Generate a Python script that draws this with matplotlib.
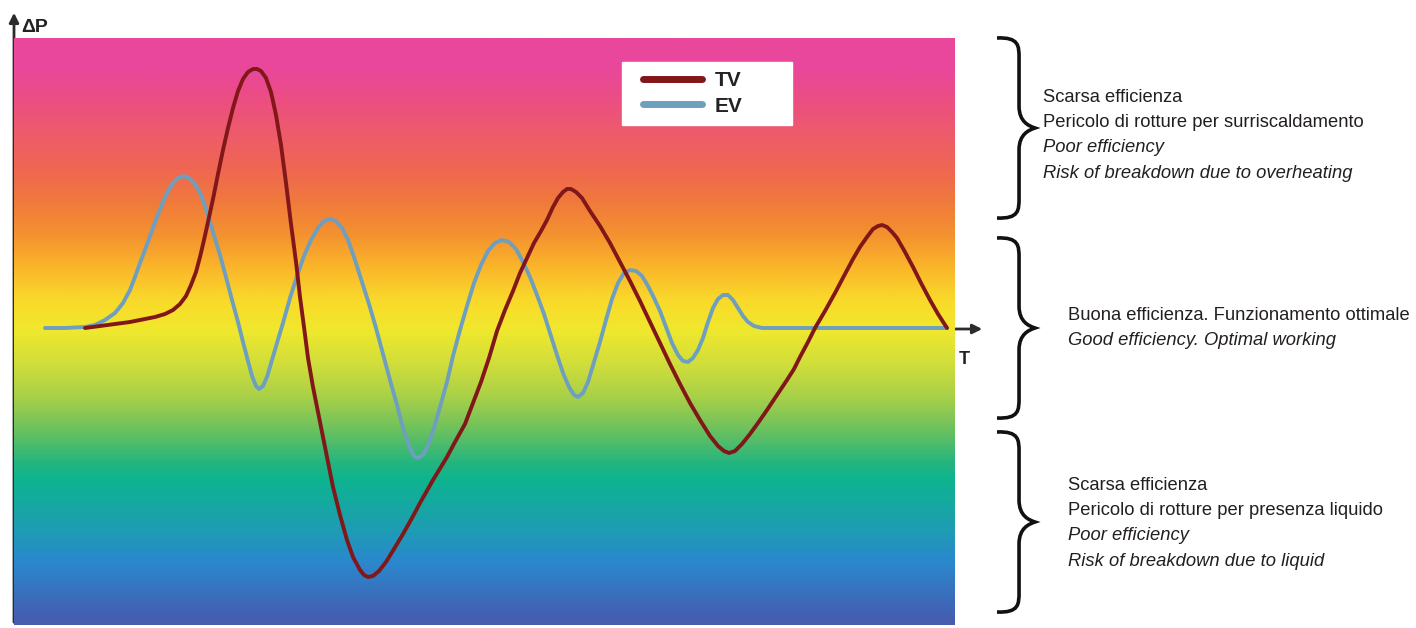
import numpy as np
from matplotlib import pyplot as plt
from matplotlib.colors import LinearSegmentedColormap
from matplotlib.legend_handler import HandlerLine2D
from matplotlib.path import Path
from matplotlib.patches import PathPatch

# TV curve (time, delta P)
tv_t = [71, 86, 101, 116, 131, 141, 151, 159, 166, 172, 177, 182, 186, 190, 194, 199,
        204, 209, 214, 219, 224, 229, 234, 239, 243, 247, 252, 257, 262, 267, 272, 277,
        282, 286, 290, 294, 299, 304, 309, 314, 319, 326, 333, 339, 346, 350, 354, 359,
        365, 372, 380, 389, 398, 406, 419, 433, 441, 451, 459, 467, 475, 483, 491, 499,
        506, 513, 520, 527, 533, 539, 544, 549, 553, 557, 562, 568, 576, 586, 596, 606,
        616, 626, 636, 646, 656, 666, 676, 686, 696, 704, 710, 715, 721, 728, 736, 744,
        753, 763, 773, 780, 786, 794, 801, 811, 821, 831, 839, 846, 853, 859, 864, 868,
        873, 878, 883, 891, 899, 907, 916, 924, 933]
tv_p = [0, 2, 4, 6, 9, 11, 14, 18, 24, 32, 43, 56, 71, 88, 106, 129,
        154, 178, 200, 220, 237, 249, 256, 259, 259, 257, 250, 236, 213, 183, 145, 104,
        66, 31, 1, -30, -59, -84, -109, -134, -159, -187, -212, -229, -242, -247, -249, -248,
        -243, -234, -221, -206, -190, -175, -152, -129, -114, -96, -75, -54, -30, -3, 18, 37,
        55, 70, 85, 97, 108, 121, 130, 136, 139, 139, 136, 130, 117, 102, 85, 66,
        47, 27, 6, -15, -36, -56, -75, -92, -108, -118, -123, -125, -123, -116, -106, -95,
        -82, -67, -52, -41, -29, -14, 0, 17, 35, 54, 69, 81, 91, 99, 102, 103,
        101, 96, 90, 76, 61, 45, 28, 14, 0]

# EV curve
ev_t = [31, 51, 71, 81, 91, 101, 109, 116, 121, 126, 131, 136, 143, 151, 158, 164,
        169, 175, 181, 187, 193, 199, 206, 212, 218, 224, 229, 234, 238, 242, 245, 249,
        253, 258, 263, 269, 276, 283, 290, 297, 304, 310, 316, 322, 328, 334, 341, 348,
        355, 362, 369, 376, 383, 389, 395, 400, 404, 409, 414, 420, 426, 433, 439, 446,
        453, 460, 467, 474, 481, 488, 495, 502, 509, 516, 523, 530, 536, 543, 549, 555,
        560, 564, 569, 574, 580, 586, 592, 598, 604, 610, 616, 622, 628, 634, 640, 646,
        652, 658, 664, 669, 674, 679, 684, 689, 694, 699, 704, 709, 714, 719, 724, 729,
        734, 740, 748, 836, 933]
ev_p = [0, 0, 1, 3, 8, 15, 25, 38, 51, 65, 78, 92, 111, 131, 144, 150,
        152, 150, 144, 133, 116, 96, 73, 51, 28, 6, -14, -33, -48, -58, -61, -58,
        -49, -32, -15, 5, 30, 52, 72, 88, 100, 107, 109, 107, 100, 88, 68, 46,
        24, 0, -26, -52, -77, -100, -118, -128, -130, -127, -117, -100, -79, -54, -28, -2,
        22, 45, 63, 77, 85, 88, 86, 79, 66, 51, 33, 14, -5, -27, -45, -59,
        -67, -69, -65, -54, -34, -14, 8, 29, 45, 55, 58, 57, 52, 42, 30, 17,
        1, -15, -27, -33, -34, -30, -22, -10, 6, 20, 29, 33, 33, 28, 20, 12,
        6, 2, 0, 0, 0]

labels = ["TV", "EV"]
tv_color = "#821719"
ev_color = "#6e9fbf"

# vertical gradient of the background, top (0) -> bottom (1)
grad_stops = [(0.0, "#e9479b"), (0.051, "#e9479b"), (0.109, "#ec4f80"),
              (0.165, "#ee5c6a"), (0.221, "#ef6652"), (0.279, "#f07a3c"),
              (0.336, "#f4922f"), (0.392, "#fbb72a"), (0.450, "#f9db2a"),
              (0.497, "#f0e82d"), (0.554, "#d2de3a"), (0.612, "#a8d048"),
              (0.668, "#6cc15e"), (0.724, "#24b57f"), (0.753, "#0db48f"),
              (0.838, "#1e9db3"), (0.894, "#2a88cd"), (0.980, "#4262b4"),
              (1.0, "#485dae")]

fig = plt.figure(figsize=(14.16, 6.28), dpi=100)

# overlay in pixel coordinates for axes arrows, braces and notes
deco = fig.add_axes([0, 0, 1, 1])
deco.set_xlim(0, 1416)
deco.set_ylim(628, 0)
deco.axis("off")

ax = fig.add_axes([14 / 1416, 3 / 628, 941 / 1416, 587 / 628])
ax.set_xlim(0, 941)
ax.set_ylim(-297, 290)
ax.axis("off")

cmap = LinearSegmentedColormap.from_list("bg", grad_stops)
ax.imshow(np.linspace(0, 1, 512).reshape(-1, 1), cmap=cmap, aspect="auto",
          extent=[0, 941, -297, 290], zorder=0)

ax.plot(ev_t, ev_p, color=ev_color, lw=2.8, label=labels[1], zorder=3,
        solid_joinstyle="round", solid_capstyle="round")
ax.plot(tv_t, tv_p, color=tv_color, lw=2.8, label=labels[0], zorder=4,
        solid_joinstyle="round", solid_capstyle="round")

handles, lbls = ax.get_legend_handles_labels()
leg = ax.legend(handles[::-1], lbls[::-1], loc="upper left",
                bbox_to_anchor=(0.646, 0.85, 0.181, 0.109), mode="expand",
                borderaxespad=0, frameon=True, fancybox=False, framealpha=1,
                edgecolor="white", handlelength=3.39, handletextpad=0.62,
                borderpad=0.45, labelspacing=0.3,
                handler_map={h: HandlerLine2D(xpad=0.55) for h in handles},
                prop={"family": "Liberation Sans", "weight": "bold", "size": 15})
for line in leg.get_lines():
    line.set_linewidth(5)
    line.set_solid_capstyle("round")
for txt in leg.get_texts():
    txt.set_color("#222222")

# axes with arrows
deco.annotate("", xy=(985, 329), xytext=(14, 329),
              arrowprops=dict(arrowstyle="-|>", color="#2c2c2c", lw=2,
                              mutation_scale=14), zorder=5)
deco.annotate("", xy=(14, 10), xytext=(14, 625),
              arrowprops=dict(arrowstyle="-|>", color="#2c2c2c", lw=2,
                              mutation_scale=14), zorder=5)
deco.text(21, 28, "ΔP", fontsize=14, fontweight="bold", family="Liberation Sans",
          va="center", ha="left", color="#222222")
deco.text(964, 360, "T", fontsize=13, fontweight="bold", family="Liberation Sans",
          va="center", ha="center", color="#222222")


def brace(y0, y1, x0=997, w=38):
    ym = (y0 + y1) / 2
    xs = x0 + w * 0.58
    xt = x0 + w
    verts = [(x0, y0), (xs, y0 - 1), (xs, y0 + 8), (xs, y0 + 20),
             (xs, ym - 22),
             (xs, ym - 6), (xt - 6, ym - 2), (xt, ym),
             (xt - 6, ym + 2), (xs, ym + 6), (xs, ym + 22),
             (xs, y1 - 20),
             (xs, y1 - 8), (xs, y1 + 1), (x0, y1)]
    codes = [Path.MOVETO, Path.CURVE4, Path.CURVE4, Path.CURVE4,
             Path.LINETO,
             Path.CURVE4, Path.CURVE4, Path.CURVE4,
             Path.CURVE4, Path.CURVE4, Path.CURVE4,
             Path.LINETO,
             Path.CURVE4, Path.CURVE4, Path.CURVE4]
    deco.add_patch(PathPatch(Path(verts, codes), fill=False, lw=2.6,
                             edgecolor="#111111", capstyle="butt"))


brace(38, 218)
brace(238, 418)
brace(432, 612)

note_font = dict(family="Liberation Sans", fontsize=13.2, color="#231f20", va="center")
notes_top = [("Scarsa efficienza", "normal"),
             ("Pericolo di rotture per surriscaldamento", "normal"),
             ("Poor efficiency", "italic"),
             ("Risk of breakdown due to overheating", "italic")]
notes_mid = [("Buona efficienza. Funzionamento ottimale", "normal"),
             ("Good efficiency. Optimal working", "italic")]
notes_bot = [("Scarsa efficienza", "normal"),
             ("Pericolo di rotture per presenza liquido", "normal"),
             ("Poor efficiency", "italic"),
             ("Risk of breakdown due to liquid", "italic")]

for x, y, notes in [(1043, 97, notes_top), (1068, 315, notes_mid), (1068, 485, notes_bot)]:
    for i, (txt, style) in enumerate(notes):
        deco.text(x, y + i * 25.5, txt, style=style, **note_font)

fig.savefig("out.png", dpi=100)
